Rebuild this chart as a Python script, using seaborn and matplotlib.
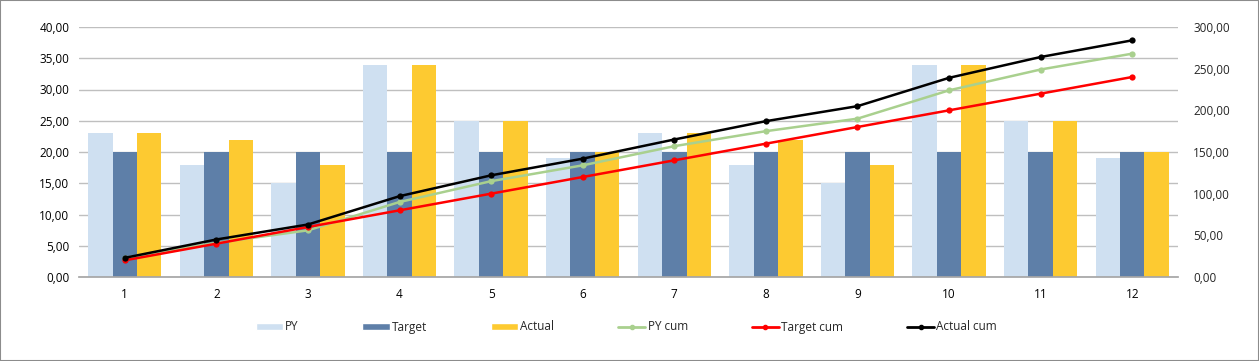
"""Monthly PY / Target / Actual bars with cumulative lines on a secondary axis."""

import matplotlib.pyplot as plt
import pandas as pd
import seaborn as sns
from matplotlib.lines import Line2D
from matplotlib.patches import Patch
from matplotlib.ticker import FuncFormatter, MultipleLocator

MONTHS = [str(m) for m in range(1, 13)]
PY = [23, 18, 15, 34, 25, 19, 23, 18, 15, 34, 25, 19]
TARGET = [20, 20, 20, 20, 20, 20, 20, 20, 20, 20, 20, 20]
ACTUAL = [23, 22, 18, 34, 25, 20, 23, 22, 18, 34, 25, 20]

PY_CUM = [23, 41, 56, 90, 115, 134, 157, 175, 190, 224, 249, 268]
TARGET_CUM = [20, 40, 60, 80, 100, 120, 140, 160, 180, 200, 220, 240]
ACTUAL_CUM = [23, 45, 63, 97, 122, 142, 165, 187, 205, 239, 264, 284]

BAR_COLORS = {"PY": "#cfe0f1", "Target": "#5e7fa8", "Actual": "#fdca31"}
LINE_COLORS = {"PY cum": "#a9d08e", "Target cum": "#ff0000", "Actual cum": "#000000"}


def comma_fmt(v, _pos):
    return f"{v:,.2f}".replace(",", " ").replace(".", ",")


sns.set_theme(style="white")
plt.rcParams["font.family"] = ["Open Sans", "DejaVu Sans"]

bars = pd.DataFrame(
    {
        "month": MONTHS * 3,
        "value": PY + TARGET + ACTUAL,
        "series": ["PY"] * 12 + ["Target"] * 12 + ["Actual"] * 12,
    }
)
lines = pd.DataFrame(
    {
        "pos": list(range(12)) * 3,
        "value": PY_CUM + TARGET_CUM + ACTUAL_CUM,
        "series": ["PY cum"] * 12 + ["Target cum"] * 12 + ["Actual cum"] * 12,
    }
)

fig = plt.figure(figsize=(12.59, 3.61), dpi=100)
ax = fig.add_axes([79 / 1259, 1 - 277 / 361, (1178 - 79) / 1259, 250 / 361])

sns.barplot(
    data=bars, x="month", y="value", hue="series", palette=BAR_COLORS,
    width=0.8, saturation=1, gap=0, legend=False, ax=ax, zorder=2,
    linewidth=0, edgecolor="none",
)
ax.set_xlim(-0.5, 11.5)
ax.set_ylim(0, 40)
ax.yaxis.set_major_locator(MultipleLocator(5))
ax.yaxis.set_major_formatter(FuncFormatter(comma_fmt))
ax.grid(axis="y", color="#bfbfbf", linewidth=1, zorder=0)
ax.set_axisbelow(True)
ax.set_xlabel("")
ax.set_ylabel("")
for s in ["top", "left", "right"]:
    ax.spines[s].set_visible(False)
ax.spines["bottom"].set_color("#a6a6a6")
ax.tick_params(axis="both", labelsize=8.5, colors="#000000", length=0)
ax.tick_params(axis="x", pad=8)
ax.tick_params(axis="y", pad=7)

ax2 = ax.twinx()
sns.lineplot(
    data=lines, x="pos", y="value", hue="series", palette=LINE_COLORS,
    marker="o", markersize=4.5, markeredgewidth=0, linewidth=1.8,
    legend=False, ax=ax2, zorder=3,
)
ax2.set_ylim(0, 300)
ax2.yaxis.set_major_locator(MultipleLocator(50))
ax2.yaxis.set_major_formatter(FuncFormatter(comma_fmt))
ax2.set_xlabel("")
ax2.set_ylabel("")
for s in ["top", "left", "right", "bottom"]:
    ax2.spines[s].set_visible(False)
ax2.tick_params(axis="y", labelsize=8.5, length=0, pad=11)
ax2.grid(False)

handles = [Patch(facecolor=c, label=k) for k, c in BAR_COLORS.items()]
handles += [
    Line2D([0], [0], color=c, marker="o", markersize=3, linewidth=2, label=k)
    for k, c in LINE_COLORS.items()
]
fig.legend(
    handles=handles, loc="center left", bbox_to_anchor=(245 / 1259, 1 - 327 / 361),
    ncol=6, frameon=False, columnspacing=5.4, handlelength=2.3,
    handleheight=0.55, handletextpad=0.2,
    prop={"family": ["Liberation Sans Narrow", "Open Sans"], "size": 8.5},
)

fig.patches.append(
    plt.Rectangle((0, 0), 1, 1, transform=fig.transFigure, fill=False,
                  edgecolor="#8c8c8c", linewidth=1.5)
)
fig.savefig("out.png", dpi=100, facecolor="white")
